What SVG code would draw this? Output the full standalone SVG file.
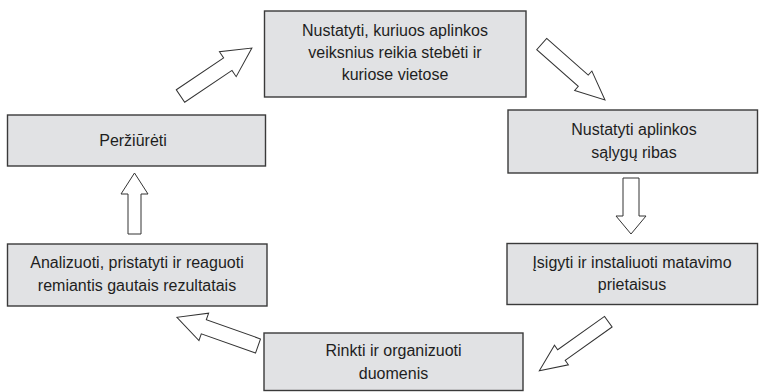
<svg xmlns="http://www.w3.org/2000/svg" width="759" height="392" viewBox="0 0 759 392">
<style>
.box{fill:#e1e2e4;stroke:#3a3a3a;stroke-width:1.4}
.t{font-family:"Liberation Sans",Arial,sans-serif;font-size:16px;fill:#1e1e1e;text-anchor:middle}
.arr{fill:#fff;stroke:#333;stroke-width:1;stroke-linejoin:miter}
</style>
<rect width="759" height="392" fill="#fff"/>
<g id="connectors">
<path class="arr" transform="translate(180.5,96) rotate(-33.9)" d="M0,-7.5 L57,-7.5 L57,-15 L86,0 L57,15 L57,7.5 L0,7.5 Z"/>
<path class="arr" transform="translate(541.7,44) rotate(41.5)" d="M0,-7.5 L55.5,-7.5 L55.5,-13 L84.5,0 L55.5,13 L55.5,7.5 L0,7.5 Z"/>
<path class="arr" transform="translate(631,178) rotate(90)" d="M0,-8 L38,-8 L38,-15 L56,0 L38,15 L38,8 L0,8 Z"/>
<path class="arr" transform="translate(608.3,321.7) rotate(144.6)" d="M0,-6.5 L57.5,-6.5 L57.5,-12 L84.6,0 L57.5,12 L57.5,6.5 L0,6.5 Z"/>
<path class="arr" transform="translate(258,346) rotate(199.5)" d="M0,-7.5 L57.5,-7.5 L57.5,-14.5 L86,0 L57.5,14.5 L57.5,7.5 L0,7.5 Z"/>
<path class="arr" transform="translate(134.5,234) rotate(-90)" d="M0,-6.5 L40,-6.5 L40,-13.5 L61,0 L40,13.5 L40,6.5 L0,6.5 Z"/>
</g>
<g id="n1">
<rect class="box" x="264.5" y="11" width="261.5" height="86"/>
<text class="t" x="395" y="36">Nustatyti, kuriuos aplinkos</text>
<text class="t" x="395" y="58">veiksnius reikia stebėti ir</text>
<text class="t" x="395" y="80">kuriose vietose</text>
</g>
<g id="n2">
<rect class="box" x="508" y="110" width="249.5" height="63"/>
<text class="t" x="634" y="135">Nustatyti aplinkos</text>
<text class="t" x="634" y="158">sąlygų ribas</text>
</g>
<g id="n3">
<rect class="box" x="507" y="243.5" width="250.5" height="61"/>
<text class="t" x="632" y="268">Įsigyti ir instaliuoti matavimo</text>
<text class="t" x="632" y="290">prietaisus</text>
</g>
<g id="n4">
<rect class="box" x="264" y="333" width="259" height="57.5"/>
<text class="t" x="393.5" y="356">Rinkti ir organizuoti</text>
<text class="t" x="393.5" y="379">duomenis</text>
</g>
<g id="n5">
<rect class="box" x="7.5" y="244" width="259.5" height="62"/>
<text class="t" x="137" y="268">Analizuoti, pristatyti ir reaguoti</text>
<text class="t" x="137" y="291">remiantis gautais rezultatais</text>
</g>
<g id="n6">
<rect class="box" x="7.5" y="115" width="258" height="51"/>
<text class="t" x="133" y="146">Peržiūrėti</text>
</g>
</svg>
